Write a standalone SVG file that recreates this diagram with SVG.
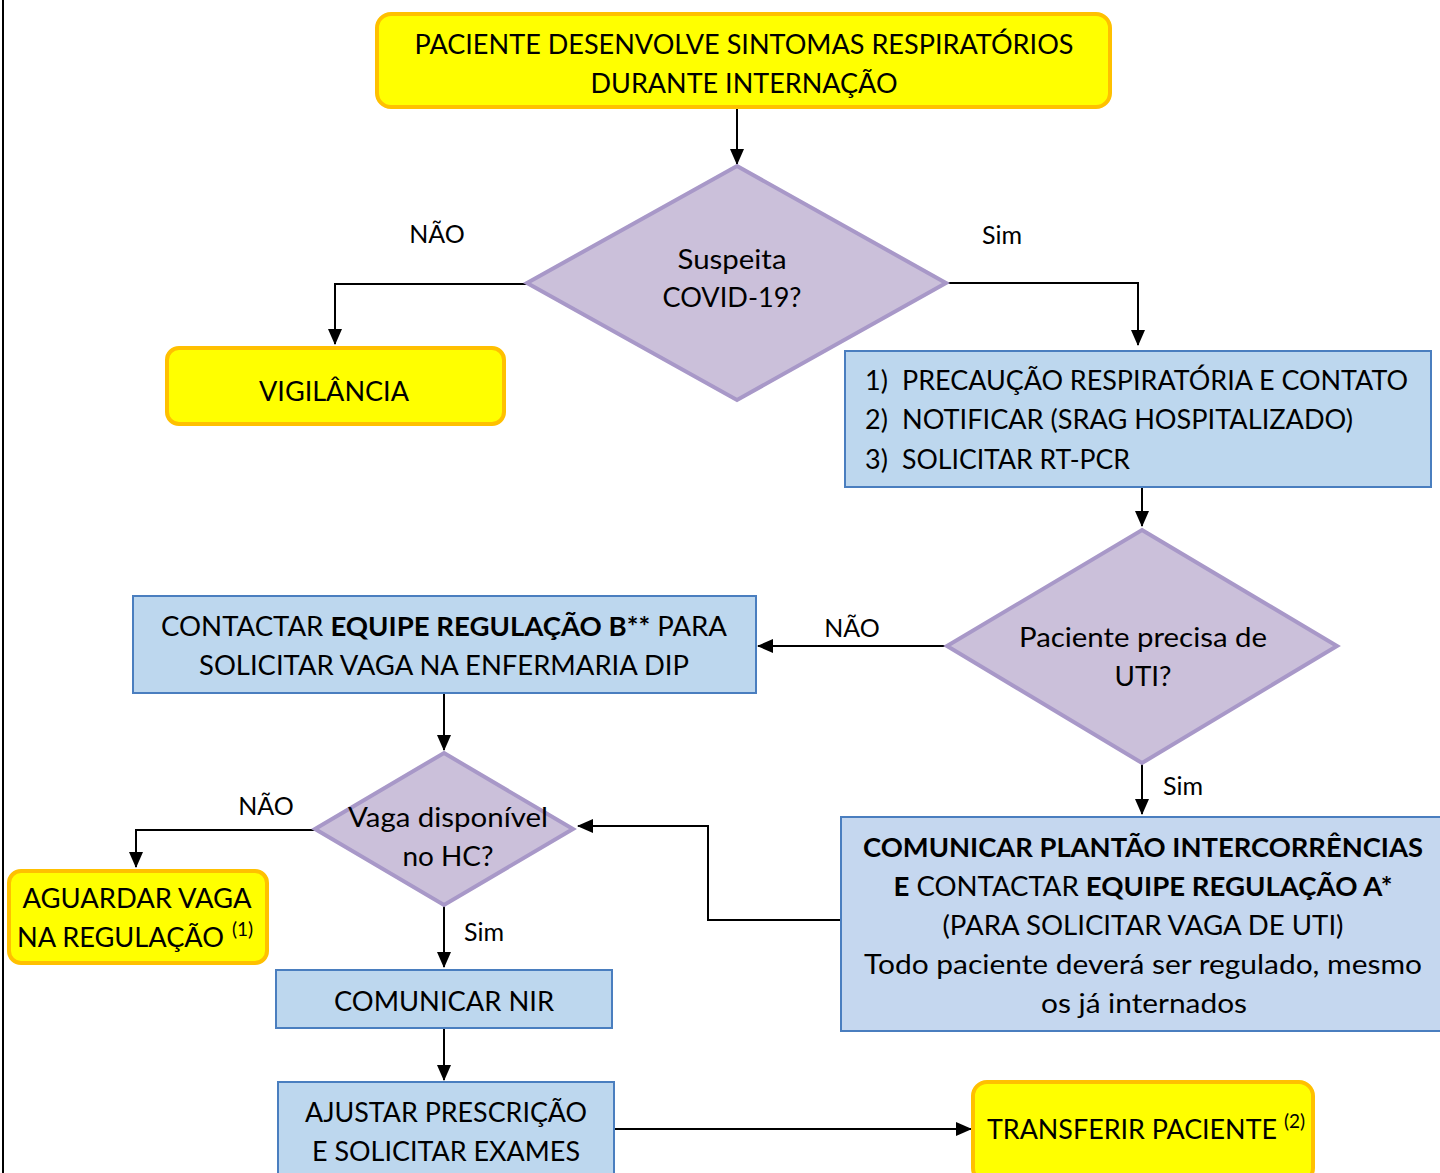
<svg xmlns="http://www.w3.org/2000/svg" width="1440" height="1173" viewBox="0 0 1440 1173">
<defs>
<style>
text{font-family:"Lato","Open Sans",sans-serif;fill:#000;}
.t{font-size:27px;text-anchor:middle;}
.tl{font-size:27px;}
.lab{font-size:25px;text-anchor:middle;}
.b{font-weight:bold;}
.sup{font-size:19px;}
.yel{fill:#FFFF00;stroke:#FFC000;stroke-width:4;}
.blu{fill:#BDD7EE;stroke:#4A7EBF;stroke-width:2;}
.blu2{fill:#C5D7EF;stroke:#4A7EBF;stroke-width:2;}
.dia{fill:#CBC0DA;stroke:#A898C8;stroke-width:4;stroke-linejoin:miter;}
.con{fill:none;stroke:#000;stroke-width:2;}
</style>
<marker id="arr" viewBox="0 0 16 16" refX="15" refY="8" markerWidth="16" markerHeight="16" markerUnits="userSpaceOnUse" orient="auto">
<path d="M0,1 L16,8 L0,15 Z" fill="#000"/>
</marker>
</defs>
<rect x="0" y="0" width="1440" height="1173" fill="#FFFFFF"/>
<line x1="3" y1="0" x2="3" y2="1173" stroke="#000" stroke-width="2"/>

<g id="connectors">
<path class="con" d="M737,107 V164" marker-end="url(#arr)"/>
<path class="con" d="M527,284 H335 V344" marker-end="url(#arr)"/>
<path class="con" d="M946,283 H1138 V345" marker-end="url(#arr)"/>
<path class="con" d="M1142,487 V526" marker-end="url(#arr)"/>
<path class="con" d="M947,646 H758" marker-end="url(#arr)"/>
<path class="con" d="M444,693 V750" marker-end="url(#arr)"/>
<path class="con" d="M1142,763 V814" marker-end="url(#arr)"/>
<path class="con" d="M841,920 H708 V826 H578" marker-end="url(#arr)"/>
<path class="con" d="M315,830 H136 V867" marker-end="url(#arr)"/>
<path class="con" d="M444,905 V967" marker-end="url(#arr)"/>
<path class="con" d="M444,1028 V1080" marker-end="url(#arr)"/>
<path class="con" d="M614,1129 H971" marker-end="url(#arr)"/>
<text class="lab" x="437" y="243">NÃO</text>
<text class="lab" x="1002" y="244">Sim</text>
<text class="lab" x="852" y="637">NÃO</text>
<text class="lab" x="1183" y="795">Sim</text>
<text class="lab" x="266" y="815">NÃO</text>
<text class="lab" x="484" y="941">Sim</text>
</g>

<g id="n-start">
<rect class="yel" x="377" y="14" width="733" height="93" rx="14"/>
<text class="t" x="744" y="54" textLength="659" lengthAdjust="spacingAndGlyphs">PACIENTE DESENVOLVE SINTOMAS RESPIRATÓRIOS</text>
<text class="t" x="744" y="93" textLength="307" lengthAdjust="spacingAndGlyphs">DURANTE INTERNAÇÃO</text>
</g>

<g id="n-suspeita">
<polygon class="dia" points="737,166 946,283 737,400 527,283"/>
<text class="t" x="732" y="269" textLength="109" lengthAdjust="spacingAndGlyphs">Suspeita</text>
<text class="t" x="732" y="307" textLength="139" lengthAdjust="spacingAndGlyphs">COVID-19?</text>
</g>

<g id="n-vigilancia">
<rect class="yel" x="167" y="348" width="337" height="76" rx="12"/>
<text class="t" x="334" y="401" textLength="150" lengthAdjust="spacingAndGlyphs">VIGILÂNCIA</text>
</g>

<g id="n-precaucao">
<rect class="blu" x="845" y="351" width="586" height="136"/>
<text class="tl" x="865" y="390">1)</text>
<text class="tl" x="902" y="390" textLength="506" lengthAdjust="spacingAndGlyphs">PRECAUÇÃO RESPIRATÓRIA E CONTATO</text>
<text class="tl" x="865" y="429">2)</text>
<text class="tl" x="902" y="429" textLength="451" lengthAdjust="spacingAndGlyphs">NOTIFICAR (SRAG HOSPITALIZADO)</text>
<text class="tl" x="865" y="469">3)</text>
<text class="tl" x="902" y="469" textLength="228" lengthAdjust="spacingAndGlyphs">SOLICITAR RT-PCR</text>
</g>

<g id="n-uti">
<polygon class="dia" points="1142,530 1337,646 1142,763 947,646"/>
<text class="t" x="1143" y="647" textLength="248" lengthAdjust="spacingAndGlyphs">Paciente precisa de</text>
<text class="t" x="1143" y="686" textLength="57" lengthAdjust="spacingAndGlyphs">UTI?</text>
</g>

<g id="n-contactar-b">
<rect class="blu" x="133" y="596" width="623" height="97"/>
<text class="t" x="444" y="636" textLength="566" lengthAdjust="spacingAndGlyphs">CONTACTAR <tspan class="b">EQUIPE REGULAÇÃO B**</tspan> PARA</text>
<text class="t" x="444" y="675" textLength="490" lengthAdjust="spacingAndGlyphs">SOLICITAR VAGA NA ENFERMARIA DIP</text>
</g>

<g id="n-vaga">
<polygon class="dia" points="444,753 573,829 444,905 315,829"/>
<text class="t" x="448" y="827" textLength="200" lengthAdjust="spacingAndGlyphs">Vaga disponível</text>
<text class="t" x="448" y="866" textLength="91" lengthAdjust="spacingAndGlyphs">no HC?</text>
</g>

<g id="n-aguardar">
<rect class="yel" x="9" y="871" width="258" height="92" rx="12"/>
<text class="t" x="137" y="908" textLength="229" lengthAdjust="spacingAndGlyphs">AGUARDAR VAGA</text>
<text class="tl" x="17" y="947" textLength="207" lengthAdjust="spacingAndGlyphs">NA REGULAÇÃO</text>
<text class="sup" x="232" y="936">(1)</text>
</g>

<g id="n-plantao">
<rect class="blu2" x="841" y="817" width="610" height="214"/>
<text class="t b" x="1143" y="857" textLength="560" lengthAdjust="spacingAndGlyphs">COMUNICAR PLANTÃO INTERCORRÊNCIAS</text>
<text class="t" x="1143" y="896" textLength="499" lengthAdjust="spacingAndGlyphs"><tspan class="b">E</tspan> CONTACTAR <tspan class="b">EQUIPE REGULAÇÃO A*</tspan></text>
<text class="t" x="1143" y="935" textLength="401" lengthAdjust="spacingAndGlyphs">(PARA SOLICITAR VAGA DE UTI)</text>
<text class="t" x="1143" y="974" textLength="558" lengthAdjust="spacingAndGlyphs">Todo paciente deverá ser regulado, mesmo</text>
<text class="t" x="1144" y="1013" textLength="206" lengthAdjust="spacingAndGlyphs">os já internados</text>
</g>

<g id="n-nir">
<rect class="blu" x="276" y="970" width="336" height="58"/>
<text class="t" x="444" y="1011" textLength="220" lengthAdjust="spacingAndGlyphs">COMUNICAR NIR</text>
</g>

<g id="n-ajustar">
<rect class="blu" x="278" y="1082" width="336" height="100"/>
<text class="t" x="446" y="1122" textLength="282" lengthAdjust="spacingAndGlyphs">AJUSTAR PRESCRIÇÃO</text>
<text class="t" x="446" y="1161" textLength="268" lengthAdjust="spacingAndGlyphs">E SOLICITAR EXAMES</text>
</g>

<g id="n-transferir">
<rect class="yel" x="973" y="1082" width="340" height="100" rx="14"/>
<text class="tl" x="987" y="1139" textLength="290" lengthAdjust="spacingAndGlyphs">TRANSFERIR PACIENTE</text>
<text class="sup" x="1284" y="1128">(2)</text>
</g>
</svg>
